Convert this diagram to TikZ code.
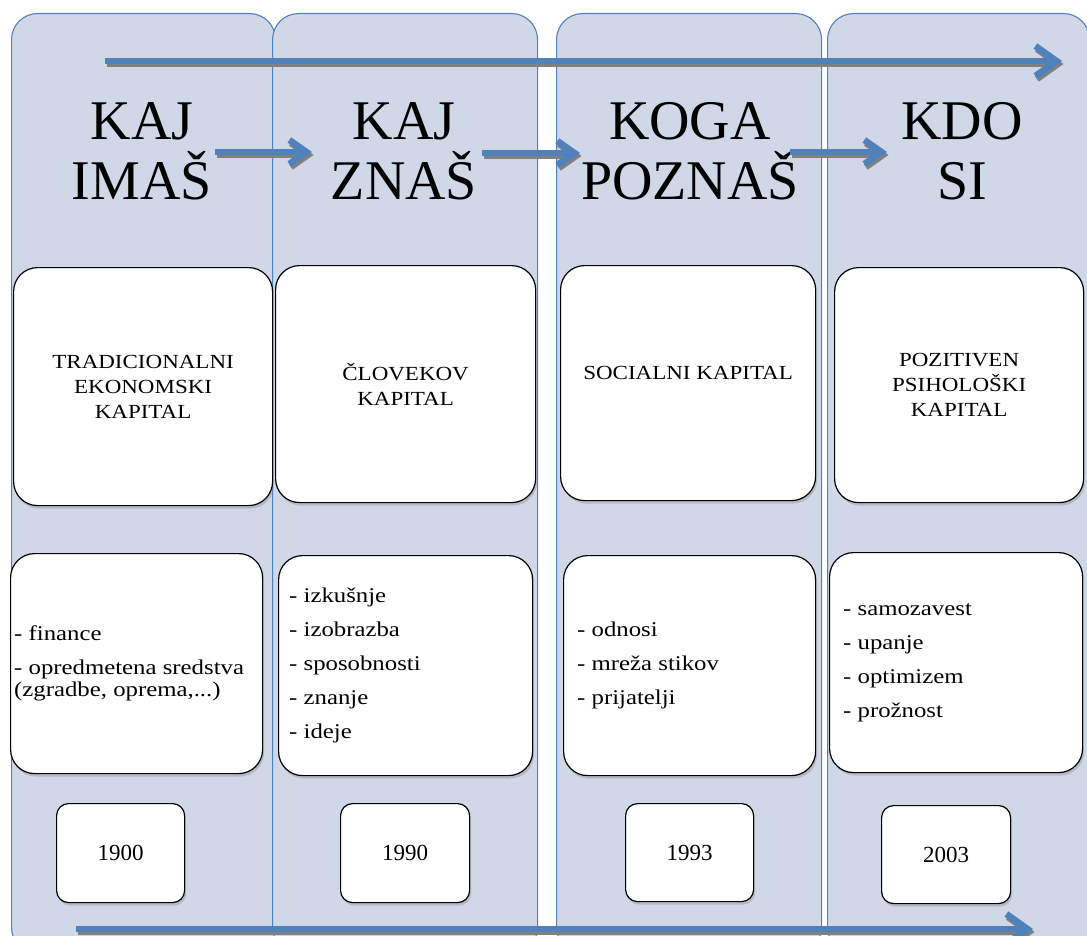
\documentclass[tikz,border=0pt]{standalone}
\usepackage{fontspec}
\setmainfont{Liberation Serif}
\newfontfamily\wideserif[FakeStretch=1.15]{Liberation Serif}
\newfontfamily\listserif[FakeStretch=1.18]{Liberation Serif}
\usetikzlibrary{arrows.meta,shadows}
\definecolor{colfill}{HTML}{D0D8E8}
\definecolor{colborder}{HTML}{4F81BD}
\definecolor{arrowblue}{HTML}{4F81BD}
\definecolor{arrowshade}{HTML}{808080}
\begin{document}
\begin{tikzpicture}[x=1pt,y=-1pt,
  column/.style={draw=colborder, line width=1.1pt, fill=colfill, rounded corners=26pt,
    inner sep=0pt, anchor=north west},
  card/.style={draw=black, line width=1.2pt, fill=white, rounded corners=24pt,
    inner sep=0pt, anchor=north west,
    drop shadow={shadow xshift=1.5pt,shadow yshift=-3pt,opacity=0.35}},
  datecard/.style={card, rounded corners=12pt},
  heading/.style={font=\fontsize{56}{60}\selectfont, align=center, inner sep=0pt, anchor=base},
  titletext/.style={font=\wideserif\fontsize{20}{25}\selectfont, align=center, inner sep=0pt},
  listtext/.style={font=\listserif\fontsize{21}{22}\selectfont, align=left, inner sep=0pt, anchor=west},
  datetext/.style={font=\fontsize{23}{23}\selectfont, inner sep=0pt},
  bigarrow/.style={line width=6pt, -{Straight Barb[length=21pt,width=30pt,line width=6.5pt]}},
  smallarrow/.style={line width=6pt, -{Straight Barb[length=17pt,width=24pt,line width=6.5pt]}}
]
\useasboundingbox (0,0) rectangle (1087,936);
\clip (0,0) rectangle (1087,936);

% column backgrounds
\node[column, minimum width=264pt, minimum height=940pt] (c1) at (11,13) {};
\node[column, minimum width=265pt, minimum height=940pt] (c2) at (272,13) {};
\node[column, minimum width=265pt, minimum height=940pt] (c3) at (556,13) {};
\node[column, minimum width=262pt, minimum height=940pt] (c4) at (827,13) {};

% headings (anchor = baseline of the last line)
\node[heading] (h1) at (142,200) {KAJ\\IMAŠ};
\node[heading] (h2) at (404,200) {KAJ\\ZNAŠ};
\node[heading] (h3) at (690,200) {KOGA\\POZNAŠ};
\node[heading] (h4) at (962,200) {KDO\\SI};

% title cards
\node[card, minimum width=259pt, minimum height=238pt] (t1) at (13,267) {};
\node[card, minimum width=260pt, minimum height=237pt] (t2) at (275,265) {};
\node[card, minimum width=255pt, minimum height=235pt] (t3) at (560,265) {};
\node[card, minimum width=249pt, minimum height=235pt] (t4) at (834,267) {};
\node[titletext] (tt1) at (t1.center) {TRADICIONALNI\\EKONOMSKI\\KAPITAL};
\node[titletext] (tt2) at (t2.center) {ČLOVEKOV\\KAPITAL};
\node[titletext, yshift=10pt] (tt3) at (t3.center) {SOCIALNI KAPITAL};
\node[titletext] (tt4) at (t4.center) {POZITIVEN\\PSIHOLOŠKI\\KAPITAL};

% list cards
\node[card, minimum width=252pt, minimum height=220pt] (b1) at (10,553) {};
\node[card, minimum width=254pt, minimum height=220pt] (b2) at (278,555) {};
\node[card, minimum width=252pt, minimum height=220pt] (b3) at (563,555) {};
\node[card, minimum width=253pt, minimum height=220pt] (b4) at (829,552) {};
\node[listtext] (l1) at ([xshift=4pt]b1.west) {- finance\\[12pt]- opredmetena sredstva\\(zgradbe, oprema,...)};
\node[listtext] (l2) at ([xshift=11pt]b2.west) {- izkušnje\\[12pt]- izobrazba\\[12pt]- sposobnosti\\[12pt]- znanje\\[12pt]- ideje};
\node[listtext] (l3) at ([xshift=14pt]b3.west) {- odnosi\\[12pt]- mreža stikov\\[12pt]- prijatelji};
\node[listtext] (l4) at ([xshift=14pt]b4.west) {- samozavest\\[12pt]- upanje\\[12pt]- optimizem\\[12pt]- prožnost};

% date cards
\node[datecard, minimum width=128pt, minimum height=99pt] (d1) at (56,803) {};
\node[datecard, minimum width=129pt, minimum height=99pt] (d2) at (340,803) {};
\node[datecard, minimum width=128pt, minimum height=98pt] (d3) at (625,803) {};
\node[datecard, minimum width=129pt, minimum height=98pt] (d4) at (881,805) {};
\node[datetext] (dt1) at (d1.center) {1900};
\node[datetext] (dt2) at (d2.center) {1990};
\node[datetext] (dt3) at (d3.center) {1993};
\node[datetext] (dt4) at (d4.center) {2003};

% arrows
\coordinate (a0s) at (105,61);  \coordinate (a0e) at (1062,61);
\coordinate (a1s) at (215,152); \coordinate (a1e) at (312,152);
\coordinate (a2s) at (482,153); \coordinate (a2e) at (580,153);
\coordinate (a3s) at (790,152); \coordinate (a3e) at (887,152);
\coordinate (a4s) at (76,929);  \coordinate (a4e) at (1033,929);
\foreach \s/\e/\st in {a0s/a0e/bigarrow, a1s/a1e/smallarrow, a2s/a2e/smallarrow, a3s/a3e/smallarrow, a4s/a4e/bigarrow}{
  \draw[\st, draw=arrowshade, transform canvas={shift={(1.5pt,-3pt)}}] (\s) -- (\e);
  \draw[\st, draw=arrowblue] (\s) -- (\e);
}
\end{tikzpicture}
\end{document}
